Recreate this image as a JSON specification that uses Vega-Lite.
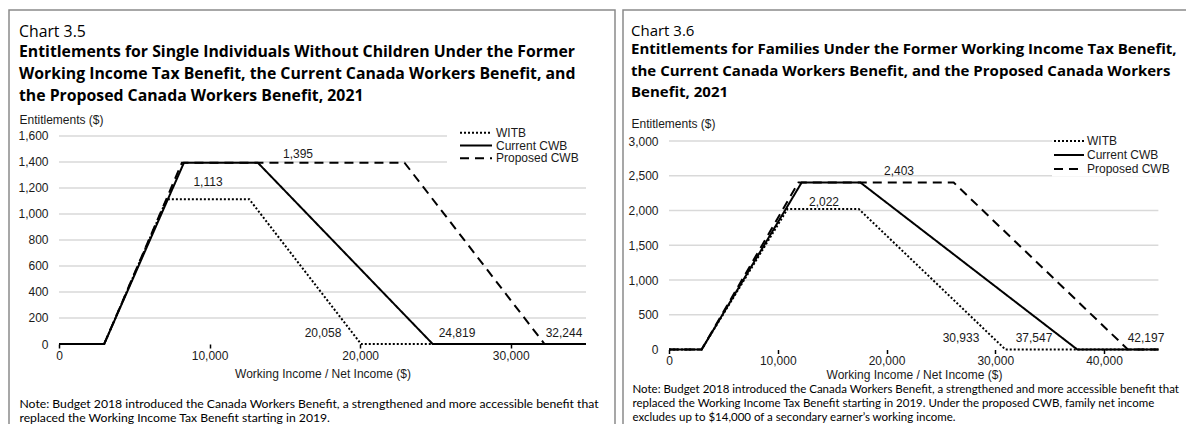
{
  "$schema": "https://vega.github.io/schema/vega-lite/v6.json",
  "padding": {"left": 8, "top": 9, "right": 0, "bottom": 0},
  "spacing": 8,
  "bounds": "flush",
  "background": "white",
  "resolve": {"scale": {"strokeDash": "independent"}, "legend": {"strokeDash": "independent"}},
  "config": {
    "view": {"stroke": "#8a8a8a", "strokeWidth": 1.5},
    "axis": {"labelFont": "Liberation Sans", "labelFontSize": 12, "labelColor": "#1a1a1a", "titleFont": "Liberation Sans", "titleFontSize": 12, "titleFontWeight": "normal", "titleColor": "#1a1a1a"},
    "text": {"font": "Liberation Sans", "fontSize": 12, "color": "#1a1a1a"}
  },
  "datasets": {
    "single_lines": [
      {"series": "WITB", "x": 0, "y": 0}, {"series": "WITB", "x": 3000, "y": 0}, {"series": "WITB", "x": 7150, "y": 1113}, {"series": "WITB", "x": 12640, "y": 1113}, {"series": "WITB", "x": 20058, "y": 0}, {"series": "WITB", "x": 35000, "y": 0},
      {"series": "Current CWB", "x": 0, "y": 0}, {"series": "Current CWB", "x": 3000, "y": 0}, {"series": "Current CWB", "x": 8300, "y": 1395}, {"series": "Current CWB", "x": 13200, "y": 1395}, {"series": "Current CWB", "x": 24819, "y": 0}, {"series": "Current CWB", "x": 35000, "y": 0},
      {"series": "Proposed CWB", "x": 0, "y": 0}, {"series": "Proposed CWB", "x": 3000, "y": 0}, {"series": "Proposed CWB", "x": 8167, "y": 1395}, {"series": "Proposed CWB", "x": 22944, "y": 1395}, {"series": "Proposed CWB", "x": 32244, "y": 0}, {"series": "Proposed CWB", "x": 35000, "y": 0}
    ],
    "family_lines": [
      {"series": "WITB", "x": 0, "y": 0}, {"series": "WITB", "x": 3000, "y": 0}, {"series": "WITB", "x": 10900, "y": 2022}, {"series": "WITB", "x": 17450, "y": 2022}, {"series": "WITB", "x": 30933, "y": 0}, {"series": "WITB", "x": 45000, "y": 0},
      {"series": "Current CWB", "x": 0, "y": 0}, {"series": "Current CWB", "x": 3000, "y": 0}, {"series": "Current CWB", "x": 12200, "y": 2403}, {"series": "Current CWB", "x": 17600, "y": 2403}, {"series": "Current CWB", "x": 37547, "y": 0}, {"series": "Current CWB", "x": 45000, "y": 0},
      {"series": "Proposed CWB", "x": 0, "y": 0}, {"series": "Proposed CWB", "x": 3000, "y": 0}, {"series": "Proposed CWB", "x": 11900, "y": 2403}, {"series": "Proposed CWB", "x": 26177, "y": 2403}, {"series": "Proposed CWB", "x": 42197, "y": 0}, {"series": "Proposed CWB", "x": 45000, "y": 0}
    ],
    "single_labels": [
      {"label": "1,395", "x": 15873, "y": 1461},
      {"label": "1,113", "x": 9896, "y": 1246},
      {"label": "20,058", "x": 17534, "y": 85},
      {"label": "24,819", "x": 26433, "y": 85},
      {"label": "32,244", "x": 33539, "y": 85}
    ],
    "family_labels": [
      {"label": "2,403", "x": 21149, "y": 2568},
      {"label": "2,022", "x": 14253, "y": 2122},
      {"label": "30,933", "x": 26850, "y": 165},
      {"label": "37,547", "x": 33563, "y": 165},
      {"label": "42,197", "x": 43862, "y": 165}
    ],
    "single_grid": [{"y": 200}, {"y": 400}, {"y": 600}, {"y": 800}, {"y": 1000}, {"y": 1200}, {"y": 1400}, {"y": 1600}],
    "family_grid": [{"y": 500}, {"y": 1000}, {"y": 1500}, {"y": 2000}, {"y": 2500}, {"y": 3000}]
  },
  "hconcat": [
    {
      "width": 606,
      "height": 415,
      "title": {
        "text": "Chart 3.5",
        "subtitle": ["Entitlements for Single Individuals Without Children Under the Former", "Working Income Tax Benefit, the Current Canada Workers Benefit, and", "the Proposed Canada Workers Benefit, 2021"],
        "anchor": "start", "frame": "group", "orient": "top", "offset": -95, "dx": 10,
        "font": "Open Sans", "fontSize": 15.8, "fontWeight": "normal", "color": "#000",
        "subtitleFont": "Open Sans", "subtitleFontSize": 15.8, "subtitleFontWeight": "bold", "subtitleColor": "#000",
        "subtitleLineHeight": 22, "subtitlePadding": 4
      },
      "resolve": {"axis": {"x": "independent", "y": "independent"}},
      "layer": [
        {
          "data": {"name": "single_grid"},
          "mark": {"type": "rule", "color": "#d9d9d9", "strokeWidth": 1.3},
          "encoding": {
            "x": {"datum": 0, "type": "quantitative", "scale": {"domain": [-3321, 36926], "nice": false, "zero": false},
              "axis": {"orient": "bottom", "offset": -81, "labels": false, "ticks": false, "domain": false, "grid": false,
                "title": ["Note: Budget 2018 introduced the Canada Workers Benefit, a strengthened and more accessible benefit that", "replaced the Working Income Tax Benefit starting in 2019."],
                "titleFont": "Lato", "titleFontSize": 12.2, "titleColor": "#000", "titleX": 10, "titleY": 53, "titleAlign": "left", "titleBaseline": "top", "titleLineHeight": 14}},
            "x2": {"datum": 35000},
            "y": {"field": "y", "type": "quantitative", "scale": {"domain": [-623, 2569], "nice": false, "zero": false}, "axis": null}
          }
        },
        {
          "data": {"name": "single_lines"},
          "mark": {"type": "line", "color": "black", "strokeWidth": 2},
          "encoding": {
            "x": {"field": "x", "type": "quantitative",
              "axis": {"orient": "bottom", "offset": -81, "values": [0, 10000, 20000, 30000], "format": ",.0f", "domain": false, "grid": false, "ticks": true, "tickSize": 4, "tickColor": "black", "tickWidth": 1.5, "labelPadding": 2,
                "title": "Working Income / Net Income ($)", "titleX": 313.5, "titleY": 29, "titleAlign": "center", "titleBaseline": "middle"}},
            "y": {"field": "y", "type": "quantitative",
              "axis": {"orient": "left", "offset": -50, "values": [0, 200, 400, 600, 800, 1000, 1200, 1400, 1600], "format": ",.0f", "domain": false, "grid": false, "ticks": false, "tickSize": 0, "labelPadding": 11,
                "title": "Entitlements ($)", "titleAngle": 0, "titleX": -40, "titleY": 109, "titleAlign": "left", "titleBaseline": "middle"}},
            "strokeDash": {"field": "series", "type": "nominal",
              "scale": {"domain": ["WITB", "Current CWB", "Proposed CWB"], "range": [[2, 2], [1, 0], [9, 6]]},
              "legend": {"orient": "none", "legendX": 438, "legendY": 104.7, "title": null, "symbolType": "stroke", "symbolStrokeWidth": 2, "symbolStrokeColor": "black", "symbolSize": 1024, "labelFont": "Liberation Sans", "labelFontSize": 12, "labelColor": "#1a1a1a", "labelOffset": 3, "fillColor": "white", "padding": 12, "rowPadding": 0.8, "clipHeight": 12}}
          }
        },
        {
          "data": {"name": "single_labels"},
          "mark": {"type": "text", "align": "center", "baseline": "middle"},
          "encoding": {
            "x": {"field": "x", "type": "quantitative", "axis": null},
            "y": {"field": "y", "type": "quantitative", "axis": null},
            "text": {"field": "label"}
          }
        }
      ]
    },
    {
      "width": 564,
      "height": 415,
      "title": {
        "text": "Chart 3.6",
        "subtitle": ["Entitlements for Families Under the Former Working Income Tax Benefit,", "the Current Canada Workers Benefit, and the Proposed Canada Workers", "Benefit, 2021"],
        "anchor": "start", "frame": "group", "orient": "top", "offset": -90, "dx": 8,
        "font": "Open Sans", "fontSize": 15, "fontWeight": "normal", "color": "#000",
        "subtitleFont": "Open Sans", "subtitleFontSize": 15, "subtitleFontWeight": "bold", "subtitleColor": "#000",
        "subtitleLineHeight": 21.5, "subtitlePadding": 3
      },
      "resolve": {"axis": {"x": "independent", "y": "independent"}},
      "layer": [
        {
          "data": {"name": "family_grid"},
          "mark": {"type": "rule", "color": "#d9d9d9", "strokeWidth": 1.3},
          "encoding": {
            "x": {"datum": 0, "type": "quantitative", "scale": {"domain": [-4230, 47632], "nice": false, "zero": false},
              "axis": {"orient": "bottom", "offset": -75.5, "labels": false, "ticks": false, "domain": false, "grid": false,
                "title": ["Note: Budget 2018 introduced the Canada Workers Benefit, a strengthened and more accessible benefit that", "replaced the Working Income Tax Benefit starting in 2019. Under the proposed CWB, family net income", "excludes up to $14,000 of a secondary earner’s working income."],
                "titleFont": "Lato", "titleFontSize": 11.5, "titleColor": "#000", "titleX": 9, "titleY": 34, "titleAlign": "left", "titleBaseline": "top", "titleLineHeight": 14}},
            "x2": {"datum": 45000},
            "y": {"field": "y", "type": "quantitative", "scale": {"domain": [-1086, 4885], "nice": false, "zero": false}, "axis": null}
          }
        },
        {
          "data": {"name": "family_lines"},
          "mark": {"type": "line", "color": "black", "strokeWidth": 2},
          "encoding": {
            "x": {"field": "x", "type": "quantitative",
              "axis": {"orient": "bottom", "offset": -75.5, "values": [0, 10000, 20000, 30000, 40000], "format": ",.0f", "domain": false, "grid": false, "ticks": true, "tickSize": 4, "tickColor": "black", "tickWidth": 1.5, "labelPadding": 2,
                "title": "Working Income / Net Income ($)", "titleX": 291, "titleY": 24.5, "titleAlign": "center", "titleBaseline": "middle"}},
            "y": {"field": "y", "type": "quantitative",
              "axis": {"orient": "left", "offset": -46, "values": [0, 500, 1000, 1500, 2000, 2500, 3000], "format": ",.0f", "domain": false, "grid": false, "ticks": false, "tickSize": 0, "labelPadding": 11,
                "title": "Entitlements ($)", "titleAngle": 0, "titleX": -38, "titleY": 113, "titleAlign": "left", "titleBaseline": "middle"}},
            "strokeDash": {"field": "series", "type": "nominal",
              "scale": {"domain": ["WITB", "Current CWB", "Proposed CWB"], "range": [[2, 2], [1, 0], [9, 6]]},
              "legend": {"orient": "none", "legendX": 429, "legendY": 123.5, "title": null, "symbolType": "stroke", "symbolStrokeWidth": 2, "symbolStrokeColor": "black", "symbolSize": 900, "labelFont": "Liberation Sans", "labelFontSize": 12, "labelColor": "#1a1a1a", "labelOffset": 2, "fillColor": "white", "padding": 1, "rowPadding": 1, "clipHeight": 13}}
          }
        },
        {
          "data": {"name": "family_labels"},
          "mark": {"type": "text", "align": "center", "baseline": "middle"},
          "encoding": {
            "x": {"field": "x", "type": "quantitative", "axis": null},
            "y": {"field": "y", "type": "quantitative", "axis": null},
            "text": {"field": "label"}
          }
        }
      ]
    }
  ]
}
